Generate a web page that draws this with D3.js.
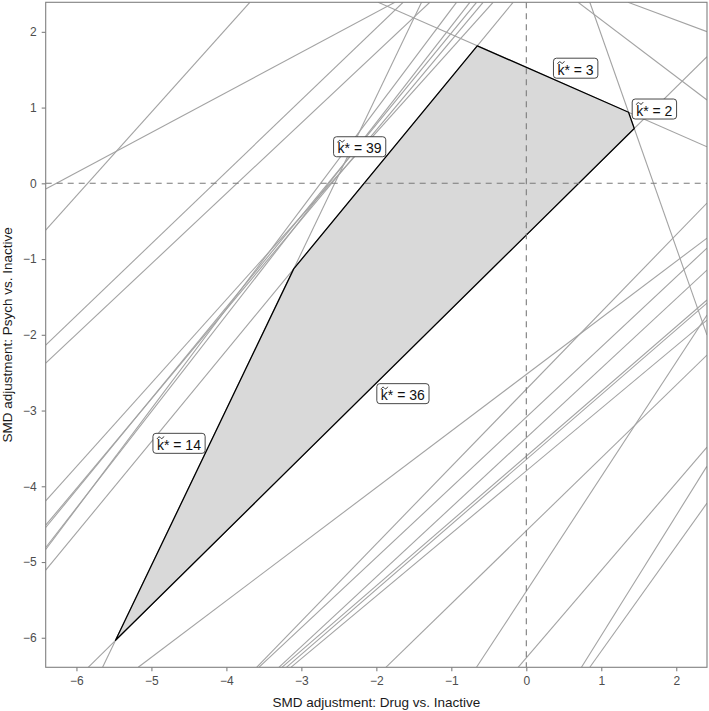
<!DOCTYPE html>
<html><head><meta charset="utf-8">
<script src="https://cdn.jsdelivr.net/npm/d3@7"></script>
<style>
body{margin:0;background:#fff}
svg{display:block}
text{font-family:"Liberation Sans",Arial,Helvetica,sans-serif}
</style>
</head><body>
<svg id="chart" width="709" height="711"></svg>
<script>
// ---- data (SMD adjustment space) ----
const xDomain = [-6.41, 2.41];
const yDomain = [-6.39, 2.39];
const xTicks = [-6, -5, -4, -3, -2, -1, 0, 1, 2];
const yTicks = [-6, -5, -4, -3, -2, -1, 0, 1, 2];
const xTitle = "SMD adjustment: Drug vs. Inactive";
const yTitle = "SMD adjustment: Psych vs. Inactive";

// threshold lines that bound the invariant region: [x1, y1, x2, y2]
const k39Line = [-6.41, -5.108, -0.176, 2.39];
const k3Line  = [-1.976, 2.39, 2.41, 0.483];
const k2Line  = [0.847, 2.39, 2.41, -2.004];
const k36Line = [-5.843, -6.39, 2.41, 1.672];
const k14Line = [-5.651, -6.39, -1.397, 2.39];

// all other threshold lines: [x1, y1, x2, y2]
const otherLines = [
  [-6.41, -0.617, -3.687, 2.39],
  [-6.41, -0.075, -1.753, 2.39],
  [-6.41, -2.137, -1.643, 2.39],
  [-6.41, -2.374, -1.287, 2.39],
  [-6.41, -4.193, -0.443, 2.39],
  [-6.41, -4.514, -0.576, 2.39],
  [-6.41, -4.544, -0.664, 2.39],
  [-6.41, -4.808, -0.753, 2.39],
  [-6.41, -4.835, -0.931, 2.39],
  [0.691, 2.39, 2.41, 1.100],
  [1.357, 2.39, 2.41, 2.003],
  [-5.176, -6.39, 2.41, -0.723],
  [-1.873, -6.39, 2.41, -2.268],
  [-0.664, -6.39, 2.41, -1.740],
  [-0.109, -6.39, 2.41, -3.483],
  [0.736, -6.39, 2.41, -3.734],
  [0.847, -6.39, 2.41, -4.223],
  [-3.597, -6.39, 2.41, -0.260],
  [-3.567, -6.39, 2.41, -0.855],
  [-3.300, -6.39, 2.41, -1.145],
  [-3.260, -6.39, 2.41, -1.541],
  [-3.200, -6.39, 2.41, -1.581],
  [-3.140, -6.39, 2.41, -1.806]
];

// labels for the boundary lines
const labelValues = [39, 3, 2, 36, 14];
const labelX = [-2.224, 0.657, 1.707, -1.647, -4.633];
const labelY = [0.483, 1.520, 0.981, -2.777, -3.433];

// ---- chart ----
const svg = d3.select("#chart");
const L = 45.7, R = 707, T = 2.3, B = 667.3;
const x = d3.scaleLinear().domain(xDomain).range([L, R]);
const y = d3.scaleLinear().domain(yDomain).range([B, T]);

svg.append("defs").append("clipPath").attr("id", "clip")
  .append("rect").attr("x", L).attr("y", T).attr("width", R - L).attr("height", B - T);

const plot = svg.append("g").attr("clip-path", "url(#clip)");

const boundary = [k39Line, k3Line, k2Line, k36Line, k14Line];
const allLines = otherLines.concat(boundary);

plot.selectAll("line.th").data(allLines).join("line")
  .attr("class", "th")
  .attr("x1", d => x(d[0])).attr("y1", d => y(d[1]))
  .attr("x2", d => x(d[2])).attr("y2", d => y(d[3]))
  .attr("stroke", "#a3a3a3").attr("stroke-width", 1.1);

function intersect(a, b) {
  const [x1, y1, x2, y2] = a, [x3, y3, x4, y4] = b;
  const den = (x1 - x2) * (y3 - y4) - (y1 - y2) * (x3 - x4);
  const t = ((x1 - x3) * (y3 - y4) - (y1 - y3) * (x3 - x4)) / den;
  return [x1 + t * (x2 - x1), y1 + t * (y2 - y1)];
}
const verts = boundary.map((ln, i) => intersect(ln, boundary[(i + 1) % boundary.length]));

plot.append("path")
  .attr("d", d3.line().x(d => x(d[0])).y(d => y(d[1]))(verts) + "Z")
  .attr("fill", "#d9d9d9").attr("stroke", "#000").attr("stroke-width", 1.3)
  .attr("stroke-linejoin", "round");

// reference dashed lines
plot.append("line").attr("x1", x(0)).attr("x2", x(0)).attr("y1", T).attr("y2", B)
  .attr("stroke", "#7a7a7a").attr("stroke-width", 1.1).attr("stroke-dasharray", "6,5");
plot.append("line").attr("x1", L).attr("x2", R).attr("y1", y(0)).attr("y2", y(0))
  .attr("stroke", "#7a7a7a").attr("stroke-width", 1.1).attr("stroke-dasharray", "6,5");

// axes
const xAxis = svg.append("g").attr("transform", `translate(0,${B})`)
  .call(d3.axisBottom(x).tickValues(xTicks).tickSize(4).tickPadding(5));
const yAxis = svg.append("g").attr("transform", `translate(${L},0)`)
  .call(d3.axisLeft(y).tickValues(yTicks).tickSize(4).tickPadding(5));
[xAxis, yAxis].forEach(a => {
  a.select(".domain").remove();
  a.selectAll(".tick line").attr("stroke", "#7f7f7f").attr("stroke-width", 1.1);
  a.selectAll(".tick text").attr("fill", "#4d4d4d").attr("font-size", 12)
    .attr("font-family", "'Liberation Sans', Arial, sans-serif");
});

// panel border
svg.append("rect").attr("x", L).attr("y", T).attr("width", R - L).attr("height", B - T)
  .attr("fill", "none").attr("stroke", "#808080").attr("stroke-width", 1.1);

// axis titles
svg.append("text").attr("x", (L + R) / 2).attr("y", 706.5).attr("text-anchor", "middle")
  .attr("font-size", 13.5).attr("fill", "#1a1a1a").text(xTitle);
svg.append("text").attr("transform", `translate(12.3,${(T + B) / 2}) rotate(-90)`)
  .attr("text-anchor", "middle").attr("font-size", 13.5).attr("fill", "#1a1a1a").text(yTitle);

// labels: boxed "k~* = n"
const lab = svg.append("g").selectAll("g").data(labelValues).join("g")
  .attr("transform", (d, i) => `translate(${x(labelX[i])},${y(labelY[i])})`);
lab.append("text").attr("text-anchor", "middle").attr("y", 6.5)
  .attr("font-size", 14).attr("fill", "#111")
  .text(d => "k* = " + d);
lab.each(function() {
  const g = d3.select(this);
  const tn = g.select("text").node();
  const bb = tn.getBBox();
  g.insert("rect", "text").attr("x", bb.x - 4).attr("y", -10).attr("width", bb.width + 8)
    .attr("height", 20).attr("rx", 3).attr("fill", "#fff").attr("stroke", "#333").attr("stroke-width", 0.9);
  const e = tn.getExtentOfChar(0);
  const x0 = e.x + 0.3, w = e.width - 0.6, ty = -5.6;
  g.append("path")
    .attr("d", `M${x0},${ty + 0.9} C${x0 + w * 0.2},${ty - 1.4} ${x0 + w * 0.38},${ty - 1.0} ${x0 + w * 0.5},${ty} S${x0 + w * 0.8},${ty + 1.4} ${x0 + w},${ty - 0.9}`)
    .attr("fill", "none").attr("stroke", "#111").attr("stroke-width", 0.9).attr("stroke-linecap", "round");
});
</script>
</body></html>
